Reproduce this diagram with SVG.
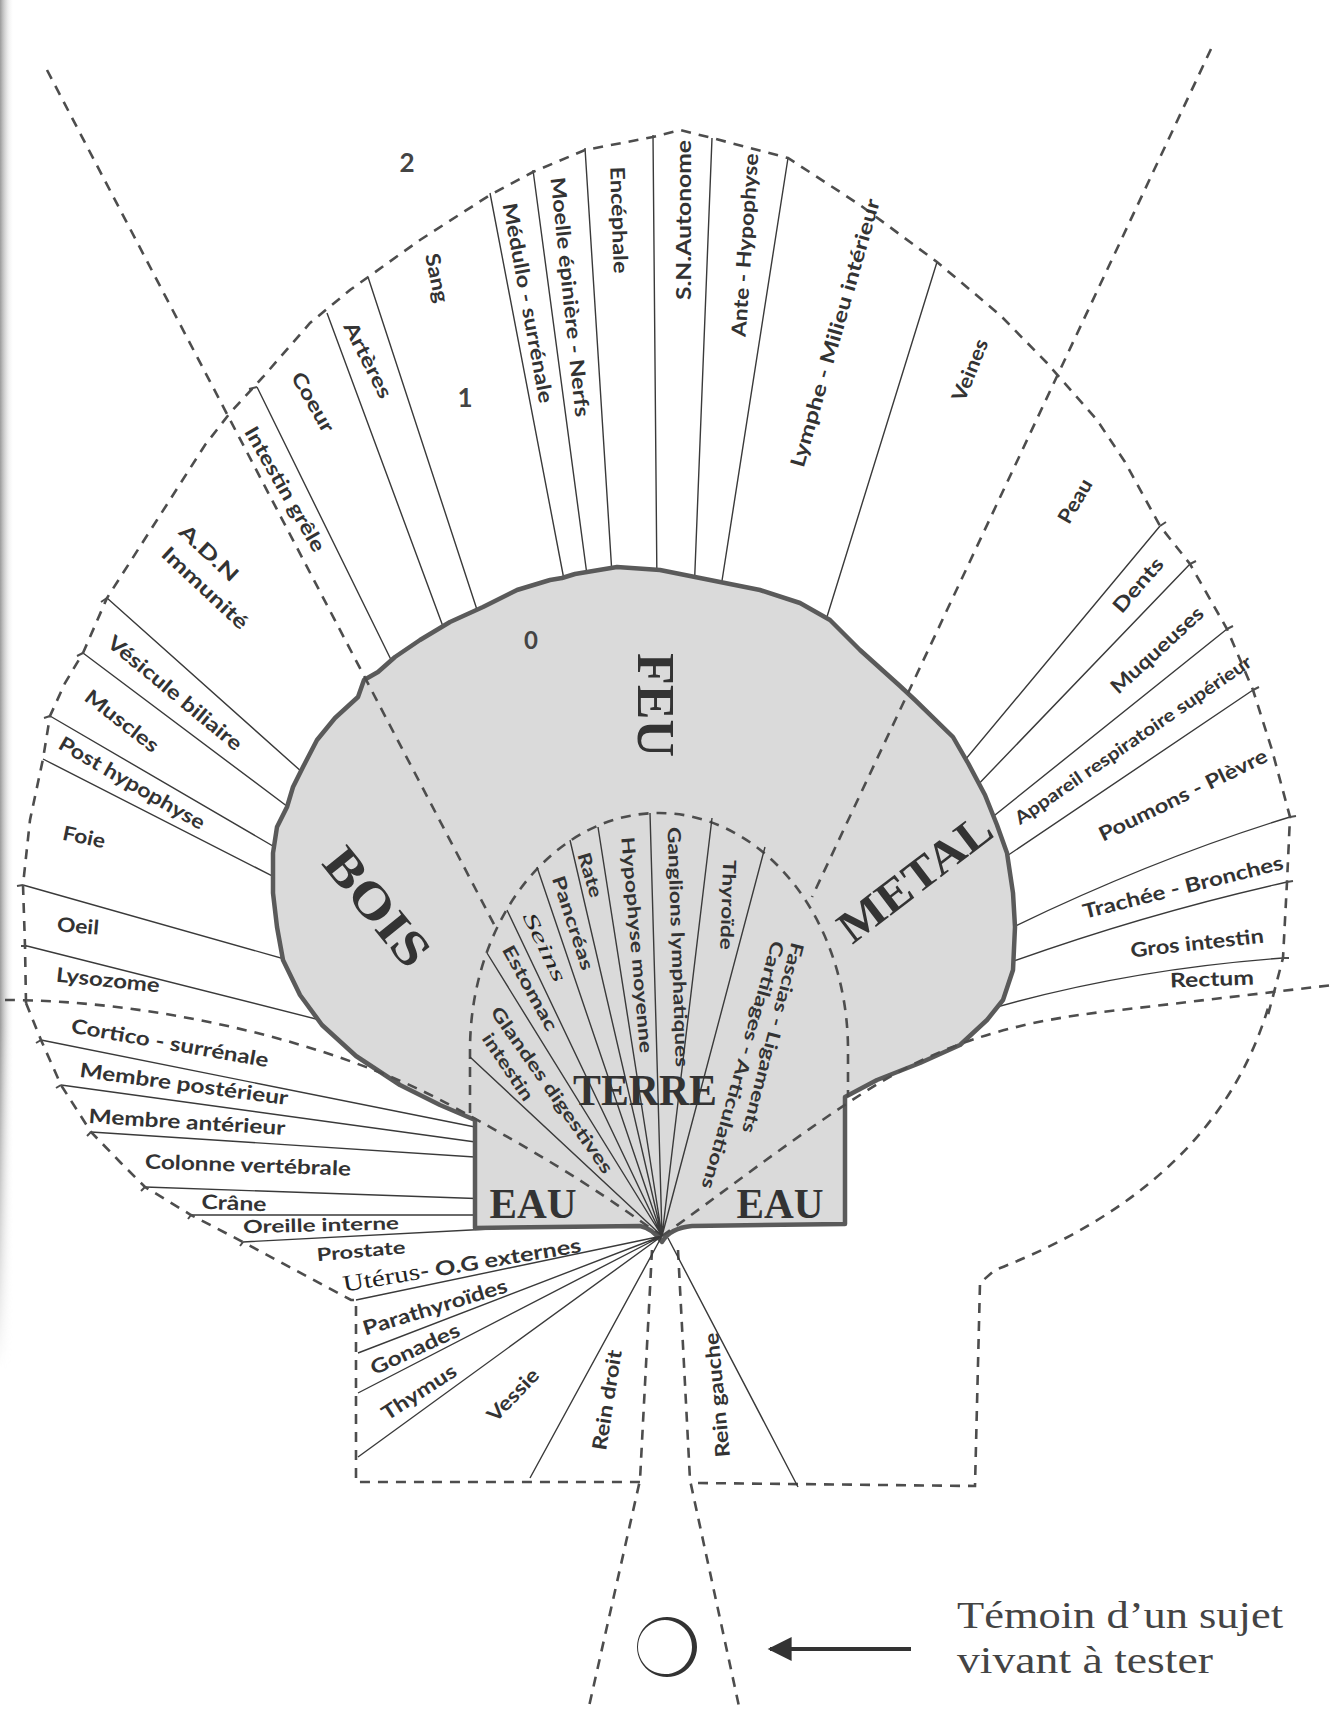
<svg xmlns="http://www.w3.org/2000/svg" width="1333" height="1711" viewBox="0 0 1333 1711">
<defs>
<linearGradient id="edge" x1="0" y1="0" x2="1" y2="0">
<stop offset="0" stop-color="#9a9a9a"/><stop offset="1" stop-color="#ffffff" stop-opacity="0"/>
</linearGradient>
<linearGradient id="vfade" x1="0" y1="0" x2="0" y2="1">
<stop offset="0" stop-color="#fff"/><stop offset="0.6" stop-color="#fff"/><stop offset="0.8" stop-color="#000"/>
</linearGradient>
<mask id="edgemask"><rect x="0" y="0" width="14" height="1711" fill="url(#vfade)"/></mask>
<marker id="ah" viewBox="0 0 10 10" refX="9" refY="5" markerWidth="8" markerHeight="6" orient="auto-start-reverse" markerUnits="strokeWidth">
<path d="M0 0 L10 5 L0 10 Z" fill="#333"/>
</marker>
<style>
.ln{fill:none;stroke:#3a3a3a;stroke-width:1.4}
.ds{fill:none;stroke:#4d4d4d;stroke-width:2.6;stroke-dasharray:10 8}
.tk{fill:none;stroke:#4d4d4d;stroke-width:2}
.t{font-family:Lato,"Open Sans","Liberation Sans",sans-serif;font-weight:700;font-size:20px;fill:#333;text-anchor:middle}
.s{font-size:18px}
.sr{font-family:"Liberation Serif",serif;font-weight:400;fill:#222}
.big{font-family:"Liberation Serif",serif;font-weight:700;fill:#333;text-anchor:middle}
.num{font-family:Lato,"Liberation Sans",sans-serif;font-weight:700;fill:#444;text-anchor:middle}
.leg{font-family:"Liberation Serif",serif;font-size:38px;fill:#444}
</style>
</defs>
<rect width="1333" height="1711" fill="#ffffff"/>
<rect x="0" y="0" width="14" height="1711" fill="url(#edge)" mask="url(#edgemask)"/>

<g id="connectors-under">
<path class="ln" d="M257 387L400 678M327 313L448 640M368 277L482 625M490 193L566 590M533 170L589 590M585 148L613 590M653 135L657 590M712 138L694 595M788 158L719 600M937 262L826 620"/>
<path class="ln" d="M107 598L312 781M83 653L300 816M50 716L290 856M43 759L288 884M23 885L295 962M27 946L320 1020"/>
<path class="ln" d="M41 1040L490 1130M61 1085L490 1144M91 1132L490 1158M145 1187L490 1199M191 1215L490 1215M243 1242L490 1229"/>
<path class="ln" d="M1160 526L955 772M1190 564L970 793M1227 629L980 827M1253 690L995 864M1290 817Q1150 860 1003 932M1287 882Q1140 915 1000 966M1283 958Q1120 970 980 1012"/>
</g>

<g id="shell">
<path d="M475 1228L475 1120L440 1105L400 1085L356 1056L322 1025L300 995L283 960L277 927L273 893L273 853L277 827L287 807L293 787L303 767L317 740L335 718L358 697L364 680L378 672L395 657L420 640L450 622L483 607L517 590L550 580L562 578L575 574L617 567L660 570L700 578L760 590L800 603L830 620L860 650L900 686L915 700L953 737L968 763L985 795L997 825L1007 853L1013 893L1015 927L1013 970L1003 1000L987 1020L960 1045L920 1063L877 1080L845 1097L845 1224L692 1226Q670 1228 662 1242Q652 1228 640 1226Z" fill="#dadada" stroke="#5a5a5a" stroke-width="4.5" stroke-linejoin="round"/>
</g>

<g id="connectors-over">
<path class="ds" d="M26 1003L25 946L23 885L30 820L43 759L50 716L65 683L83 653L107 598L157 520L205 445L230 413L263 377L310 323L350 290L420 240L490 195L533 172L585 150L653 137L680 130L712 138L788 158L860 205L937 262L1000 315L1047 363L1097 420L1125 462L1160 526L1190 564L1227 629L1253 690L1272 750L1290 817L1287 882L1283 958L1272 1000L1268 1015"/>
<path class="ds" d="M26 1003L41 1040L61 1085L91 1132L120 1162L145 1187L191 1215L243 1242L351 1300L356 1300L356 1482L640 1482"/>
<path class="ds" d="M698 1483L975 1486L980 1283L995 1270Q1215 1185 1268 1008"/>
<path class="ds" d="M47 70L497 930"/>
<path class="ds" d="M1211 49L812 897"/>
<path class="ds" d="M5 1000C150 1000 330 1040 450 1105S610 1200 662 1236"/>
<path class="ds" d="M662 1236C720 1195 790 1140 860 1095S1000 1022 1120 1010L1333 985"/>
<path class="ds" d="M470 1113L470 1050A189 237 0 0 1 848 1050L848 1097"/>
<path class="ds" d="M652 1250L640 1480L588 1711"/>
<path class="ds" d="M678 1250L690 1480L740 1711"/>
<path class="tk" d="M257 387L249 389M107 598L101 602M83 653L77 656M50 716L44 718M23 885L17 886M27 946L21 946M41 1040L36 1043M61 1085L56 1088M91 1132L87 1136M145 1187L141 1191M191 1215L188 1219M243 1242L240 1246M1160 526L1166 522M1190 564L1196 561M1227 629L1233 626M1253 690L1259 687M1290 817L1296 816M1287 882L1293 881M1283 958L1289 958"/>
<path class="ln" d="M470 1057L662 1236M487 953L662 1236M507 910L662 1236M537 867L662 1236M570 840L662 1236M598 827L662 1236M650 813L662 1236M712 818L662 1236M765 847L662 1236"/>
<path class="ln" d="M356 1300L662 1236M358 1353L662 1236M358 1393L662 1236M358 1457L662 1236M530 1478L662 1236M668 1238L798 1487"/>
</g>

<g id="elements">
<text class="big" transform="translate(655 705) rotate(90)" dy="0.33em" font-size="52" textLength="104" lengthAdjust="spacingAndGlyphs">FEU</text>
<text class="big" transform="translate(377 907) rotate(51)" dy="0.33em" font-size="50" textLength="138" lengthAdjust="spacingAndGlyphs">BOIS</text>
<text class="big" transform="translate(915 878) rotate(-37.4)" dy="0.33em" font-size="46" textLength="181" lengthAdjust="spacingAndGlyphs">METAL</text>
<text class="big" x="645" y="1105" font-size="44" textLength="144" lengthAdjust="spacingAndGlyphs">TERRE</text>
<text class="big" x="533" y="1218" font-size="42" textLength="87" lengthAdjust="spacingAndGlyphs">EAU</text>
<text class="big" x="780" y="1218" font-size="42" textLength="87" lengthAdjust="spacingAndGlyphs">EAU</text>
</g>

<g id="levels">
<text class="num" x="407" y="172" font-size="26">2</text>
<text class="num" x="465" y="407" font-size="26">1</text>
<text class="num" x="531" y="649" font-size="24">0</text>
</g>

<g id="feu-organs">
<text class="t" transform="translate(285 489) rotate(60)" dy=".35em" textLength="141" lengthAdjust="spacingAndGlyphs">Intestin grêle</text>
<text class="t" transform="translate(313 402) rotate(60)" dy=".35em" textLength="66" lengthAdjust="spacingAndGlyphs">Coeur</text>
<text class="t" transform="translate(368 360) rotate(63)" dy=".35em" textLength="83" lengthAdjust="spacingAndGlyphs">Artères</text>
<text class="t" transform="translate(437 278) rotate(78)" dy=".35em" textLength="50" lengthAdjust="spacingAndGlyphs">Sang</text>
<text class="t" transform="translate(528 303) rotate(79.5)" dy=".35em" textLength="203" lengthAdjust="spacingAndGlyphs">Médullo - surrénale</text>
<text class="t" transform="translate(570 297) rotate(84)" dy=".35em" textLength="241" lengthAdjust="spacingAndGlyphs">Moelle épinière - Nerfs</text>
<text class="t" transform="translate(619 220) rotate(88)" dy=".35em" textLength="107" lengthAdjust="spacingAndGlyphs">Encéphale</text>
<text class="t" transform="translate(684 220) rotate(-90)" dy=".35em" textLength="160" lengthAdjust="spacingAndGlyphs">S.N.Autonome</text>
<text class="t" transform="translate(745 245) rotate(-86)" dy=".35em" textLength="184" lengthAdjust="spacingAndGlyphs">Ante - Hypophyse</text>
<text class="t" transform="translate(835 333) rotate(-74)" dy=".35em" textLength="278" lengthAdjust="spacingAndGlyphs">Lymphe - Milieu intérieur</text>
<text class="t" transform="translate(970 370) rotate(-68)" dy=".35em" textLength="65" lengthAdjust="spacingAndGlyphs">Veines</text>
</g>

<g id="bois-organs">
<text class="t" transform="translate(209 553) rotate(43)" dy=".35em" textLength="73" lengthAdjust="spacingAndGlyphs">A.D.N</text>
<text class="t" transform="translate(205 588) rotate(43)" dy=".35em" textLength="110" lengthAdjust="spacingAndGlyphs">Immunité</text>
<text class="t" transform="translate(175 693) rotate(39.5)" dy=".35em" textLength="168" lengthAdjust="spacingAndGlyphs">Vésicule biliaire</text>
<text class="t" transform="translate(122 721) rotate(38)" dy=".35em" textLength="88" lengthAdjust="spacingAndGlyphs">Muscles</text>
<text class="t" transform="translate(132 783) rotate(30)" dy=".35em" textLength="165" lengthAdjust="spacingAndGlyphs">Post hypophyse</text>
<text class="t" transform="translate(84 837) rotate(12)" dy=".35em" textLength="43" lengthAdjust="spacingAndGlyphs">Foie</text>
<text class="t" transform="translate(78 926) rotate(5)" dy=".35em" textLength="42" lengthAdjust="spacingAndGlyphs">Oeil</text>
<text class="t" transform="translate(108 980) rotate(6)" dy=".35em" textLength="104" lengthAdjust="spacingAndGlyphs">Lysozome</text>
</g>

<g id="eau-left-organs">
<text class="t" transform="translate(170 1043) rotate(10)" dy=".35em" textLength="200" lengthAdjust="spacingAndGlyphs">Cortico - surrénale</text>
<text class="t" transform="translate(184 1084) rotate(7.7)" dy=".35em" textLength="210" lengthAdjust="spacingAndGlyphs">Membre postérieur</text>
<text class="t" transform="translate(187 1122) rotate(3.5)" dy=".35em" textLength="197" lengthAdjust="spacingAndGlyphs">Membre antérieur</text>
<text class="t" transform="translate(248 1165) rotate(2)" dy=".35em" textLength="206" lengthAdjust="spacingAndGlyphs">Colonne vertébrale</text>
<text class="t" transform="translate(234 1203) rotate(2)" dy=".35em" textLength="65" lengthAdjust="spacingAndGlyphs">Crâne</text>
<text class="t s" transform="translate(321 1225) rotate(-1.5)" dy=".35em" textLength="156" lengthAdjust="spacingAndGlyphs">Oreille interne</text>
<text class="t s" transform="translate(361 1251) rotate(-5)" dy=".35em" textLength="89" lengthAdjust="spacingAndGlyphs">Prostate</text>
<text class="t" transform="translate(462 1265) rotate(-9.5)" dy=".35em" textLength="241" lengthAdjust="spacingAndGlyphs"><tspan class="sr" font-size="23">Utérus</tspan>- O.G externes</text>
<text class="t" transform="translate(435 1307) rotate(-17)" dy=".35em" textLength="150" lengthAdjust="spacingAndGlyphs">Parathyroïdes</text>
<text class="t" transform="translate(415 1349) rotate(-24.7)" dy=".35em" textLength="96" lengthAdjust="spacingAndGlyphs">Gonades</text>
<text class="t" transform="translate(419 1392) rotate(-33)" dy=".35em" textLength="85" lengthAdjust="spacingAndGlyphs">Thymus</text>
<text class="t" transform="translate(513 1395) rotate(-46)" dy=".35em" textLength="65" lengthAdjust="spacingAndGlyphs">Vessie</text>
<text class="t" transform="translate(607 1400) rotate(-81)" dy=".35em" textLength="101" lengthAdjust="spacingAndGlyphs">Rein droit</text>
<text class="t" transform="translate(717 1395) rotate(-95.5)" dy=".35em" textLength="125" lengthAdjust="spacingAndGlyphs">Rein gauche</text>
</g>

<g id="terre-organs">
<text class="t s" transform="translate(552 1090) rotate(55)" dy=".35em" textLength="199" lengthAdjust="spacingAndGlyphs">Glandes digestives</text>
<text class="t s" transform="translate(508 1067) rotate(56)" dy=".35em" textLength="77" lengthAdjust="spacingAndGlyphs">intestin</text>
<text class="t s" transform="translate(530 988) rotate(61)" dy=".35em" textLength="95" lengthAdjust="spacingAndGlyphs">Estomac</text>
<text class="t sr" transform="translate(545 947) rotate(64)" dy=".35em" font-style="italic" font-size="22" textLength="75" lengthAdjust="spacingAndGlyphs">Seins</text>
<text class="t s" transform="translate(573 923) rotate(72)" dy=".35em" textLength="98" lengthAdjust="spacingAndGlyphs">Pancréas</text>
<text class="t s" transform="translate(590 875) rotate(73)" dy=".35em" textLength="46" lengthAdjust="spacingAndGlyphs">Rate</text>
<text class="t s" transform="translate(637 945) rotate(85)" dy=".35em" textLength="217" lengthAdjust="spacingAndGlyphs">Hypophyse moyenne</text>
<text class="t s" transform="translate(678 947) rotate(88)" dy=".35em" textLength="240" lengthAdjust="spacingAndGlyphs">Ganglions lymphatiques</text>
<text class="t s" transform="translate(728 905) rotate(92)" dy=".35em" textLength="90" lengthAdjust="spacingAndGlyphs">Thyroïde</text>
<text class="t s" transform="translate(773 1038) rotate(104.7)" dy=".35em" textLength="196" lengthAdjust="spacingAndGlyphs">Fascias - Ligaments</text>
<text class="t s" transform="translate(743 1065) rotate(106)" dy=".35em" textLength="257" lengthAdjust="spacingAndGlyphs">Cartilages - Articulations</text>
</g>

<g id="metal-organs">
<text class="t" transform="translate(1075 501) rotate(-60)" dy=".35em" textLength="48" lengthAdjust="spacingAndGlyphs">Peau</text>
<text class="t" transform="translate(1138 585) rotate(-49)" dy=".35em" textLength="66" lengthAdjust="spacingAndGlyphs">Dents</text>
<text class="t" transform="translate(1157 650) rotate(-42.6)" dy=".35em" textLength="118" lengthAdjust="spacingAndGlyphs">Muqueuses</text>
<text class="t s" transform="translate(1133 740) rotate(-34.5)" dy=".35em" textLength="283" lengthAdjust="spacingAndGlyphs">Appareil respiratoire supérieur</text>
<text class="t" transform="translate(1183 795) rotate(-26)" dy=".35em" textLength="185" lengthAdjust="spacingAndGlyphs">Poumons - Plèvre</text>
<text class="t" transform="translate(1183 887) rotate(-14)" dy=".35em" textLength="206" lengthAdjust="spacingAndGlyphs">Trachée - Bronches</text>
<text class="t" transform="translate(1197 943) rotate(-6.4)" dy=".35em" textLength="134" lengthAdjust="spacingAndGlyphs">Gros intestin</text>
<text class="t" transform="translate(1212 979) rotate(-2)" dy=".35em" textLength="84" lengthAdjust="spacingAndGlyphs">Rectum</text>
</g>

<g id="temoin">
<path d="M697 1647A30 30 0 1 1 697 1646.9Z M692 1647A27 27 0 1 0 692 1647.1Z" fill="#333" fill-rule="evenodd"/>
</g>
<g id="arrow">
<line x1="911" y1="1649" x2="770" y2="1649" stroke="#333" stroke-width="4" marker-end="url(#ah)"/>
</g>
<g id="legend">
<text class="leg" x="957" y="1628" textLength="326" lengthAdjust="spacingAndGlyphs">Témoin d’un sujet</text>
<text class="leg" x="957" y="1673" textLength="256" lengthAdjust="spacingAndGlyphs">vivant à tester</text>
</g>
</svg>
